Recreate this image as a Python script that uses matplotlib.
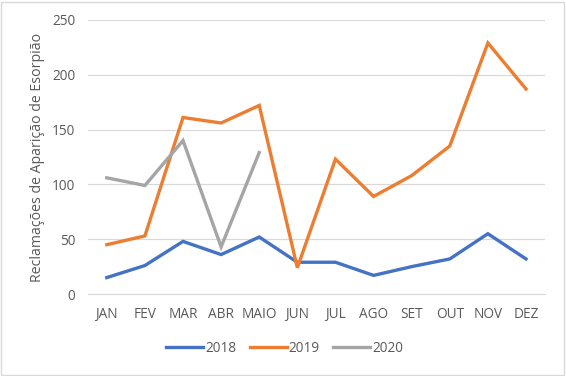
import matplotlib.pyplot as plt

months = ['JAN', 'FEV', 'MAR', 'ABR', 'MAIO', 'JUN', 'JUL', 'AGO', 'SET', 'OUT', 'NOV', 'DEZ']
v2018 = [15, 26, 48, 36, 52, 29, 29, 17, 25, 32, 55, 32]
v2019 = [45, 53, 161, 156, 172, 24, 123, 89, 108, 135, 229, 187]
v2020 = [106, 99, 140, 43, 129]

plt.rcParams['font.family'] = ['Open Sans', 'DejaVu Sans']
txt = '#595959'

fig = plt.figure(figsize=(5.66, 3.76), dpi=100)
ax = fig.add_axes([0.155, 0.218, 0.808, 0.729])

x = list(range(len(months)))
ax.plot(x, v2018, color='#4472C4', lw=2.4, label='2018', solid_joinstyle='miter')
ax.plot(x, v2019, color='#ED7D31', lw=2.4, label='2019', solid_joinstyle='miter')
ax.plot(x[:len(v2020)], v2020, color='#A5A5A5', lw=2.4, label='2020', solid_joinstyle='miter')

ax.set_xlim(-0.5, len(months) - 0.5)
ax.set_ylim(0, 250)
ax.set_yticks(range(0, 251, 50))
ax.set_xticks(x)
ax.set_xticklabels(months)
ax.grid(axis='y', color='#D9D9D9', lw=0.9)
ax.set_axisbelow(True)
for s in ['top', 'right', 'left']:
    ax.spines[s].set_visible(False)
ax.spines['bottom'].set_color('#D9D9D9')
ax.tick_params(length=0, labelsize=9.8, labelcolor=txt, pad=9)
ax.tick_params(axis='y', pad=9)
ax.set_ylabel('Reclamações de Aparição de Esorpião', fontsize=10.2, color=txt, labelpad=5)

fig.legend(loc='center', bbox_to_anchor=(0.503, 0.074), ncol=3, frameon=False,
           fontsize=9.8, labelcolor=txt, handlelength=2.7, columnspacing=1.0, handletextpad=0.15)

fig.patches.append(plt.Rectangle((0.002, 0.003), 0.995, 0.993, transform=fig.transFigure,
                                 fill=False, edgecolor='#D9D9D9', lw=1))
fig.savefig('out.png', dpi=100)
